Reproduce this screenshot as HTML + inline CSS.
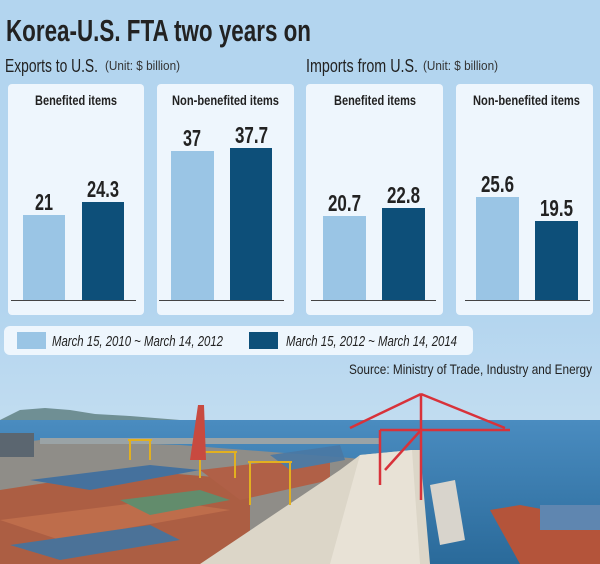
<!DOCTYPE html>
<html><head><meta charset="utf-8"><style>
html,body{margin:0;padding:0;width:600px;height:564px;overflow:hidden;background:#b3d5ef}
svg{display:block}
text{font-family:"Liberation Sans Narrow","Liberation Sans",sans-serif}
</style></head><body>
<svg width="600" height="564" viewBox="0 0 600 564" xmlns="http://www.w3.org/2000/svg">
<defs>
<linearGradient id="sky" x1="0" y1="0" x2="0" y2="1">
<stop offset="0" stop-color="#b3d5ef"/><stop offset="0.55" stop-color="#b3d5ef"/><stop offset="1" stop-color="#d4e6f2"/></linearGradient>
<linearGradient id="sea" x1="0" y1="0" x2="0" y2="1">
<stop offset="0" stop-color="#4a8cc0"/><stop offset="1" stop-color="#2a6a9a"/></linearGradient>
</defs>
<rect width="600" height="564" fill="url(#sky)"/>
<path d="M0 420 L20 410 L45 408 L70 410 L95 414 L130 416 L180 420 Z" fill="#6f8f94"/>
<rect x="0" y="420" width="600" height="144" fill="url(#sea)"/>
<path d="M0 445 L40 440 L180 445 L350 458 L420 465 L420 564 L0 564 Z" fill="#8f8d88"/>
<rect x="40" y="438" width="340" height="6" fill="#9aa3a6"/>
<rect x="0" y="433" width="34" height="24" fill="#5b6670"/>
<g opacity="0.9">
<path d="M0 490 L130 470 L250 480 L250 564 L0 564 Z" fill="#b05a3c"/>
<path d="M30 480 L150 465 L200 470 L90 490 Z" fill="#3e6fa0"/>
<path d="M0 520 L160 500 L230 510 L60 540 Z" fill="#c46a45"/>
<path d="M10 545 L150 525 L180 540 L60 560 Z" fill="#44709a"/>
<path d="M120 500 L200 490 L230 500 L150 515 Z" fill="#5e8c6a"/>
<path d="M200 470 L330 455 L330 480 L240 500 Z" fill="#b45c40"/>
<path d="M270 455 L340 445 L345 460 L290 470 Z" fill="#4a78a4"/>
</g>
<path d="M340 470 L360 455 L412 450 L420 450 L430 564 L200 564 Z" fill="#dcd6c8"/>
<path d="M360 455 L412 450 L420 564 L330 564 Z" fill="#e8e2d6"/>
<path d="M430 485 L455 480 L465 540 L440 545 Z" fill="#d8d4cc"/>
<path d="M490 510 L520 505 L600 520 L600 564 L520 564 Z" fill="#b4543a"/>
<rect x="540" y="505" width="60" height="25" fill="#5f86b0"/>
<g stroke="#d8323a" stroke-width="2.5" fill="none">
<path d="M421 394 L421 500 M380 430 L510 430 M421 394 L350 428 M421 394 L505 428 M380 430 L380 485 M421 430 L385 470"/>
</g>
<g stroke="#e2b020" stroke-width="2" fill="none">
<path d="M130 440 L130 460 M150 440 L150 460 M128 440 L152 440 M200 452 L200 478 M235 452 L235 478 M198 452 L237 452 M250 462 L250 505 M290 462 L290 505 M248 462 L292 462"/>
</g>
<path d="M198 405 L204 405 L206 460 L190 460 Z" fill="#c84a40"/>
<text x="6" y="41" font-size="31" font-weight="bold" fill="#222" textLength="305" lengthAdjust="spacingAndGlyphs">Korea-U.S. FTA two years on</text>
<text x="5" y="72" font-size="18" fill="#222" textLength="93" lengthAdjust="spacingAndGlyphs">Exports to U.S.</text>
<text x="105" y="70" font-size="12.5" fill="#333" textLength="75" lengthAdjust="spacingAndGlyphs">(Unit: $ billion)</text>
<text x="306" y="72" font-size="18" fill="#222" textLength="112" lengthAdjust="spacingAndGlyphs">Imports from U.S.</text>
<text x="423" y="70" font-size="12.5" fill="#333" textLength="75" lengthAdjust="spacingAndGlyphs">(Unit: $ billion)</text>
<g fill="#eef6fd">
<rect x="8" y="84" width="136" height="231" rx="4"/>
<rect x="157" y="84" width="137" height="231" rx="4"/>
<rect x="306" y="84" width="137" height="231" rx="4"/>
<rect x="456" y="84" width="137" height="231" rx="4"/>
</g>
<g font-size="13.5" font-weight="bold" fill="#222">
<text x="35" y="105" textLength="82" lengthAdjust="spacingAndGlyphs">Benefited items</text>
<text x="172" y="105" textLength="107" lengthAdjust="spacingAndGlyphs">Non-benefited items</text>
<text x="334" y="105" textLength="82" lengthAdjust="spacingAndGlyphs">Benefited items</text>
<text x="473" y="105" textLength="107" lengthAdjust="spacingAndGlyphs">Non-benefited items</text>
</g>
<g fill="#9ac5e5">
<rect x="23" y="215" width="42" height="85"/>
<rect x="171" y="151" width="43" height="149"/>
<rect x="323" y="216" width="43" height="84"/>
<rect x="476" y="197" width="43" height="103"/>
</g>
<g fill="#0d4f79">
<rect x="82" y="202" width="42" height="98"/>
<rect x="230" y="148" width="42" height="152"/>
<rect x="382" y="208" width="43" height="92"/>
<rect x="535" y="221" width="43" height="79"/>
</g>
<g stroke="#444" stroke-width="1">
<line x1="11" y1="300.5" x2="136" y2="300.5"/>
<line x1="159" y1="300.5" x2="284" y2="300.5"/>
<line x1="311" y1="300.5" x2="436" y2="300.5"/>
<line x1="465" y1="300.5" x2="590" y2="300.5"/>
</g>
<g font-size="23" font-weight="bold" fill="#222">
<text x="35" y="210" textLength="18" lengthAdjust="spacingAndGlyphs">21</text>
<text x="87" y="197" textLength="32" lengthAdjust="spacingAndGlyphs">24.3</text>
<text x="183" y="146" textLength="18" lengthAdjust="spacingAndGlyphs">37</text>
<text x="235" y="143" textLength="33" lengthAdjust="spacingAndGlyphs">37.7</text>
<text x="328" y="211" textLength="33" lengthAdjust="spacingAndGlyphs">20.7</text>
<text x="387" y="203" textLength="33" lengthAdjust="spacingAndGlyphs">22.8</text>
<text x="481" y="192" textLength="33" lengthAdjust="spacingAndGlyphs">25.6</text>
<text x="540" y="216" textLength="33" lengthAdjust="spacingAndGlyphs">19.5</text>
</g>
<rect x="4" y="326" width="469" height="29" rx="6" fill="#eef6fd"/>
<rect x="17" y="332" width="29" height="17" fill="#9ac5e5"/>
<rect x="249" y="332" width="29" height="17" fill="#0d4f79"/>
<text x="52" y="346" font-size="15" font-style="italic" fill="#222" textLength="171" lengthAdjust="spacingAndGlyphs">March 15, 2010 ~ March 14, 2012</text>
<text x="286" y="346" font-size="15" font-style="italic" fill="#222" textLength="171" lengthAdjust="spacingAndGlyphs">March 15, 2012 ~ March 14, 2014</text>
<text x="592" y="374" font-size="14" fill="#222" text-anchor="end" textLength="243" lengthAdjust="spacingAndGlyphs">Source: Ministry of Trade, Industry and Energy</text>
</svg>
</body></html>
